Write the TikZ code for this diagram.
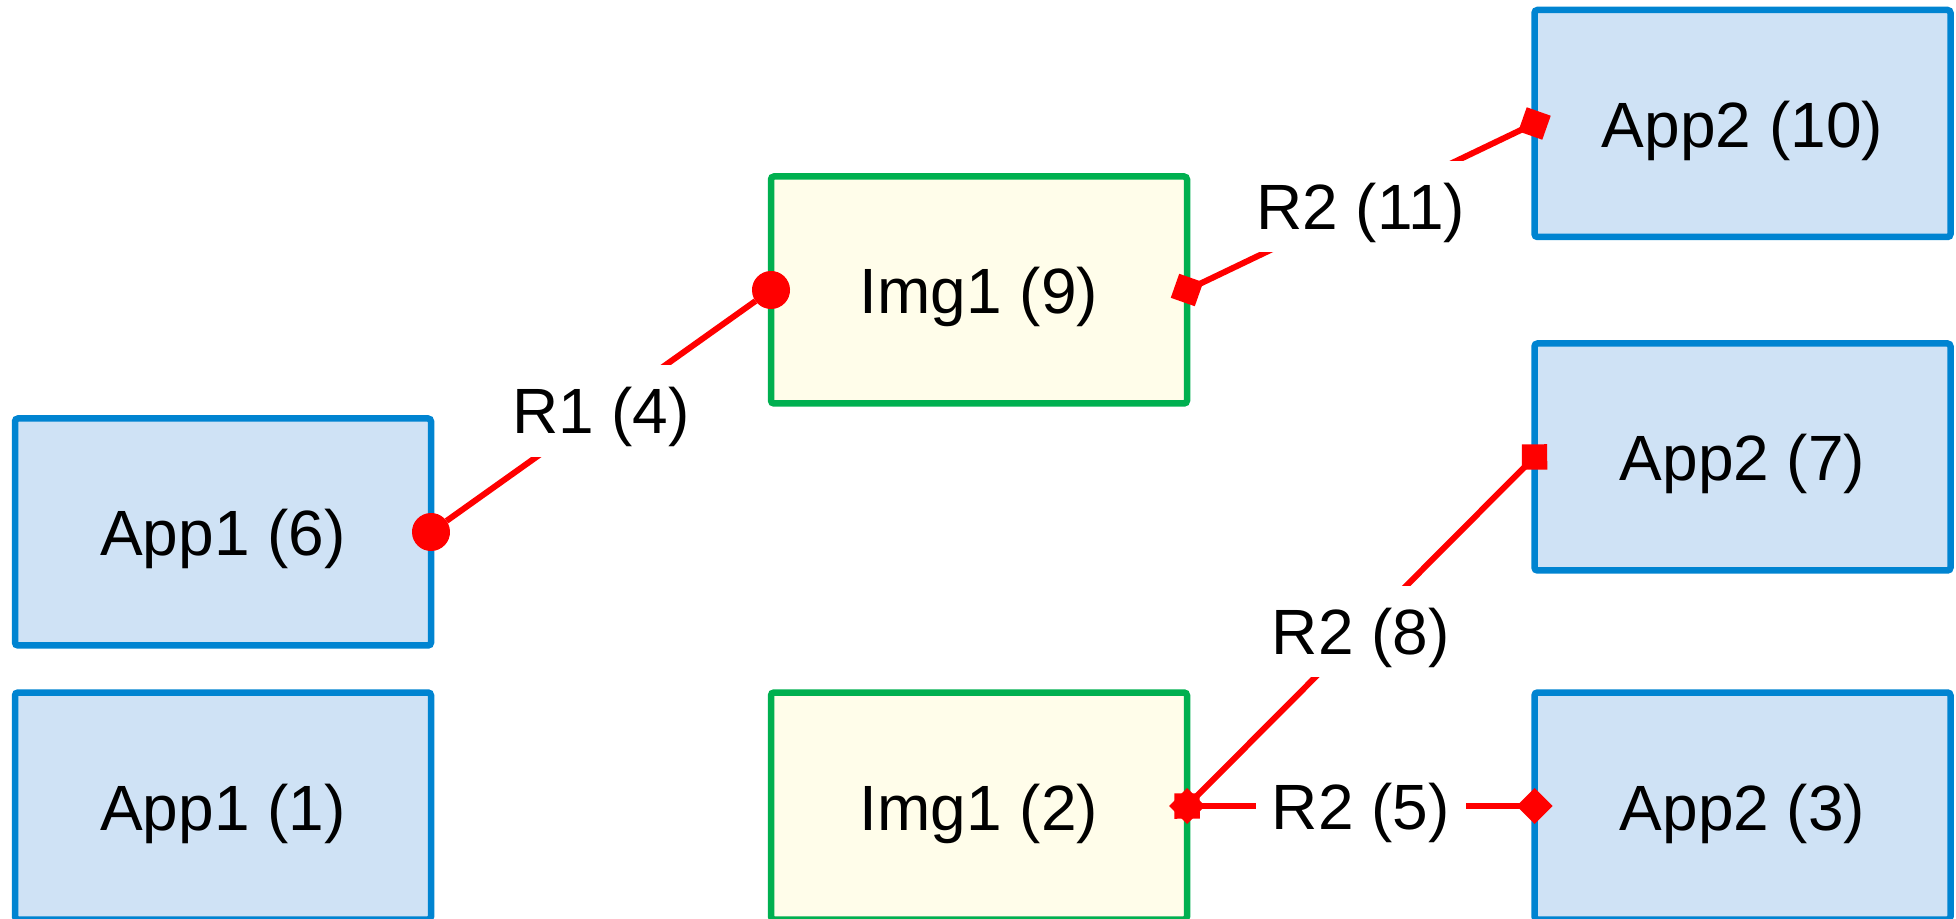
\documentclass[tikz,border=0pt]{standalone}
\usepackage{fontspec}
\setmainfont{Liberation Sans}
\usetikzlibrary{arrows.meta}
\definecolor{appfill}{RGB}{207,226,245}
\definecolor{appedge}{RGB}{0,132,209}
\definecolor{imgfill}{RGB}{255,253,234}
\definecolor{imgedge}{RGB}{0,176,80}
\definecolor{relred}{RGB}{255,0,0}
\begin{document}
\begin{tikzpicture}[x=0.5pt, y=-0.5pt,
  box/.style={rectangle, rounded corners=1.5pt, line width=3.25pt,
    minimum width=208pt, minimum height=113.5pt, inner sep=0pt, outer sep=0pt,
    text height=28pt, text depth=4pt,
    font=\fontsize{32}{38}\selectfont},
  app/.style={box, draw=appedge, fill=appfill},
  img/.style={box, draw=imgedge, fill=imgfill},
  rel/.style={draw=relred, line width=3pt},
  ballrel/.style={rel,
    {Circle[length=19pt, line width=0pt]}-{Circle[length=19pt, line width=0pt]},
    shorten <=-9.5pt, shorten >=-9.5pt},
  diarel/.style={rel,
    {Diamond[length=18pt, width=18pt, line width=0pt]}-{Diamond[length=18pt, width=18pt, line width=0pt]},
    shorten <=-9pt, shorten >=-9pt},
  lab/.style={fill=white, inner sep=8pt, text=black,
    text height=26.3pt, text depth=3.3pt,
    font=\fontsize{32}{38}\selectfont}
]
\useasboundingbox (0,0) rectangle (1956,919);

% components
\node[app] (a6)  at (223,532)    {App1 (6)};
\node[app] (a1)  at (223,806)    {App1 (1)};
\node[img] (i9)  at (979,290)    {Img1 (9)};
\node[img] (i2)  at (979,806)    {Img1 (2)};
\node[app] (b10) at (1742.5,123.5) {App2 (10)};
\node[app] (b7)  at (1742.5,457) {App2 (7)};
\node[app] (b3)  at (1742.5,806) {App2 (3)};

% relations
\draw[ballrel] (a6.east) -- node[lab] {R1 (4)} (i9.west);
\draw[diarel] (i9.east) -- node[lab] {R2 (11)} (b10.west);
\draw[diarel] (i2.east) -- node[lab] {R2 (8)} (b7.west);
\draw[diarel] (i2.east) -- node[lab] {R2 (5)} (b3.west);
\end{tikzpicture}
\end{document}
